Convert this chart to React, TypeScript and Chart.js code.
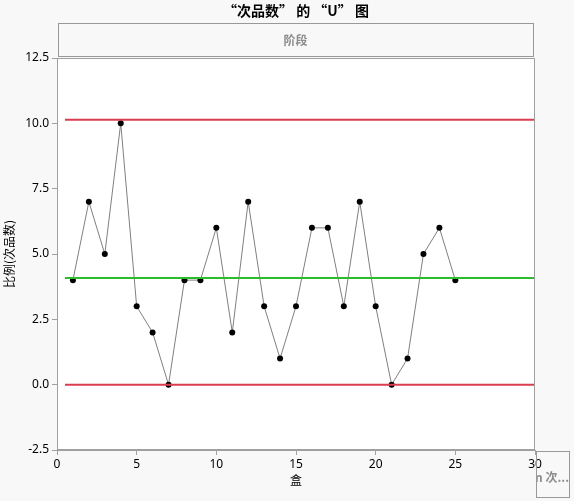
import React, { useEffect, useRef } from "react";
import { Chart, registerables } from "chart.js";

Chart.register(...registerables);

const boxes: number[] = [1, 2, 3, 4, 5, 6, 7, 8, 9, 10, 11, 12, 13, 14, 15, 16, 17, 18, 19, 20, 21, 22, 23, 24, 25];
const defects: number[] = [4, 7, 5, 10, 3, 2, 0, 4, 4, 6, 2, 7, 3, 1, 3, 6, 6, 3, 7, 3, 0, 1, 5, 6, 4];
const limitX: number[] = [0.5, 30];
const uclValue = 10.14;
const clValue = 4.08;
const lclValue = 0;

const titleText = "“次品数” 的 “U” 图";
const headerText = "阶段";
const yTitle = "比例(次品数)";
const xTitle = "盒";
const cornerText = "n 次...";

const FONT = '"Noto Sans", "Noto Sans CJK SC", sans-serif';
const CJK = '"Noto Sans CJK SC", "Noto Sans", sans-serif';

export default function App() {
  const ref = useRef<HTMLCanvasElement | null>(null);
  useEffect(() => {
    document.body.style.margin = "0";
    const canvas = ref.current!;
    const decor = {
      id: "decor",
      beforeDraw(chart: any) {
        const ctx = chart.ctx;
        const a = chart.chartArea;
        ctx.save();
        ctx.fillStyle = "#f8f8f8";
        ctx.fillRect(0, 0, chart.width, chart.height);
        ctx.fillStyle = "#ffffff";
        ctx.fillRect(a.left, a.top, a.right - a.left, a.bottom - a.top);
        ctx.restore();
      },
      afterDraw(chart: any) {
        const ctx = chart.ctx;
        const a = chart.chartArea;
        ctx.save();
        // plot frame
        ctx.strokeStyle = "#a0a0a0";
        ctx.lineWidth = 1;
        ctx.strokeRect(a.left + 0.5, a.top + 0.5, a.right - a.left - 1, a.bottom - a.top - 1);
        // title
        ctx.fillStyle = "#000";
        ctx.font = `bold 14px ${CJK}`;
        ctx.textAlign = "center";
        ctx.textBaseline = "middle";
        ctx.fillText(titleText, 296, 11);
        // header box
        ctx.strokeStyle = "#999";
        ctx.strokeRect(58.5, 23.5, 475, 33);
        ctx.fillStyle = "#8c8c8c";
        ctx.font = `bold 12px ${CJK}`;
        ctx.fillText(headerText, (58 + 533) / 2, 40);
        // corner box
        ctx.strokeRect(536.5, 451.5, 33, 46);
        ctx.save();
        ctx.beginPath();
        ctx.rect(537, 452, 32, 45);
        ctx.clip();
        ctx.textAlign = "left";
        ctx.fillStyle = "#8c8c8c";
        ctx.font = `bold 12px ${CJK}`;
        ctx.fillText(cornerText, 535, 477);
        ctx.restore();
        ctx.restore();
      },
    };
    const chart = new Chart(canvas, {
      type: "scatter",
      data: {
        datasets: [
          {
            data: limitX.map((x) => ({ x, y: uclValue })),
            showLine: true,
            borderColor: "#dc3c50",
            borderWidth: 2,
            pointRadius: 0,
          },
          {
            data: limitX.map((x) => ({ x, y: clValue })),
            showLine: true,
            borderColor: "#2cbc2c",
            borderWidth: 2,
            pointRadius: 0,
          },
          {
            data: limitX.map((x) => ({ x, y: lclValue })),
            showLine: true,
            borderColor: "#dc3c50",
            borderWidth: 2,
            pointRadius: 0,
          },
          {
            data: boxes.map((x, i) => ({ x, y: defects[i] })),
            showLine: true,
            borderColor: "#808080",
            borderWidth: 1,
            pointRadius: 3,
            pointBackgroundColor: "#000",
            pointBorderColor: "#000",
            pointBorderWidth: 0,
          },
        ],
      } as any,
      options: {
        responsive: false,
        animation: false,
        layout: { padding: { left: 0, top: 58, right: 39, bottom: 0 } },
        plugins: { legend: { display: false }, tooltip: { enabled: false }, title: { display: false } },
        scales: {
          x: {
            type: "linear",
            min: 0,
            max: 30,
            afterFit: (s: any) => {
              s.height = 51;
            },
            ticks: { stepSize: 5, color: "#000", font: { family: FONT, size: 12 }, padding: 2, maxRotation: 0 },
            grid: { display: true, drawOnChartArea: false, drawTicks: true, tickLength: 5, color: "#a0a0a0" },
            border: { display: true, color: "#a0a0a0" },
            title: { display: true, text: xTitle, color: "#000", font: { family: CJK, size: 12 }, padding: { top: 0, bottom: 13 } },
          },
          y: {
            type: "linear",
            min: -2.5,
            max: 12.5,
            afterFit: (s: any) => {
              s.width = 57;
            },
            ticks: {
              stepSize: 2.5,
              color: "#000",
              font: { family: FONT, size: 12 },
              padding: 3,
              callback: (v: any) => Number(v).toFixed(1),
            },
            grid: { display: true, drawOnChartArea: false, drawTicks: true, tickLength: 5, color: "#a0a0a0" },
            border: { display: true, color: "#a0a0a0" },
            title: { display: true, text: yTitle, color: "#000", font: { family: CJK, size: 12 }, padding: { top: 2, bottom: 0 } },
          },
        },
      } as any,
      plugins: [decor],
    });
    return () => chart.destroy();
  }, []);
  return (
    <div style={{ position: "absolute", left: 0, top: 0, width: 574, height: 501 }}>
      <canvas ref={ref} width={574} height={501} style={{ display: "block", width: 574, height: 501 }} />
    </div>
  );
}
